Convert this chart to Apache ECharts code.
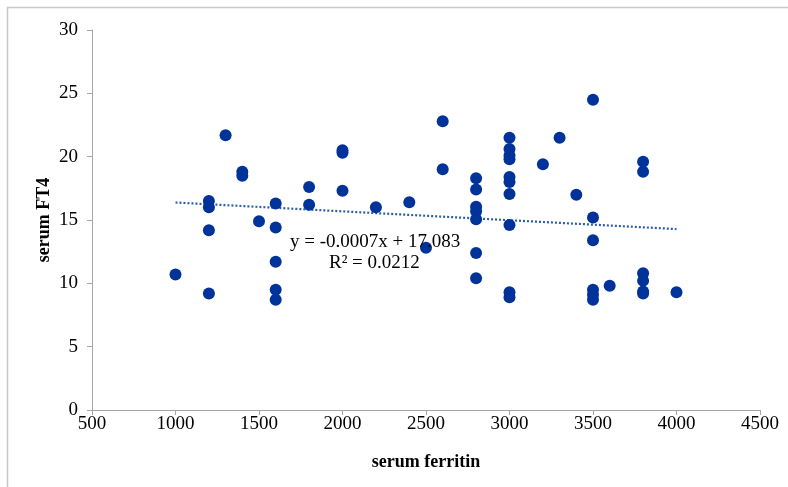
<!DOCTYPE html>
<html>
<head>
<meta charset="utf-8">
<script src="https://cdn.jsdelivr.net/npm/echarts@6/dist/echarts.min.js"></script>
<style>
html,body{margin:0;padding:0;background:#fff;}
#c{width:788px;height:487px;}
</style>
</head>
<body>
<div id="c"></div>
<script>
var ferritin = [1000,1200,1200,1200,1200,1300,1400,1400,1500,1600,1600,1600,1600,1600,1800,1800,2000,2000,2000,2200,2400,2500,2600,2600,2800,2800,2800,2800,2800,2800,2800,3000,3000,3000,3000,3000,3000,3000,3000,3000,3000,3200,3300,3400,3500,3500,3500,3500,3500,3500,3600,3800,3800,3800,3800,3800,3800,4000];
var ft4 =      [10.7,16.5,16.0,14.2,9.2,21.7,18.8,18.5,14.9,16.3,14.4,11.7,9.5,8.7,17.6,16.2,20.5,20.3,17.3,16.0,16.4,12.8,22.8,19.0,18.3,17.4,16.05,15.7,15.05,12.4,10.4,21.5,20.6,20.1,19.8,18.4,18.0,17.05,14.6,9.3,8.9,19.4,21.5,17.0,24.5,15.2,13.4,9.5,9.1,8.7,9.8,19.6,18.8,10.8,10.2,9.35,9.2,9.3];
var trendX = [1000, 4000];
var trendY = [16.383, 14.283];
var xTicks = [500,1000,1500,2000,2500,3000,3500,4000,4500];
var yTicks = [0,5,10,15,20,25,30];
var eqText = ['y = -0.0007x + 17.083', 'R\u00B2 = 0.0212'];

var pts = ferritin.map(function(x,i){return [x, ft4[i]];});
var trend = trendX.map(function(x,i){return [x, trendY[i]];});
var axisCol = '#a6a6a6';
var font = '"Liberation Serif", "Times New Roman", serif';

var chart = echarts.init(document.getElementById('c'), null, {renderer:'canvas'});
chart.setOption({
  animation:false,
  backgroundColor:'#fff',
  grid:{left:92, right:28, top:30, bottom:77},
  xAxis:{
    type:'value', min:xTicks[0], max:xTicks[xTicks.length-1], interval:500,
    name:'serum ferritin', nameLocation:'middle', nameGap:43,
    nameTextStyle:{fontFamily:font, fontWeight:'bold', fontSize:18, color:'#000'},
    axisLine:{show:true, onZero:false, lineStyle:{color:axisCol, width:1}},
    axisTick:{show:true, length:5, lineStyle:{color:axisCol}},
    axisLabel:{fontFamily:font, fontSize:19, color:'#000', margin:5,
               formatter:function(v){return String(v);}},
    splitLine:{show:false}
  },
  yAxis:{
    type:'value', min:yTicks[0], max:yTicks[yTicks.length-1], interval:5,
    name:'serum FT4', nameLocation:'middle', nameGap:39, nameRotate:90,
    nameMoveOverlap:false,
    nameTextStyle:{fontFamily:font, fontWeight:'bold', fontSize:18, color:'#000'},
    axisLine:{show:true, lineStyle:{color:axisCol, width:1}},
    axisTick:{show:true, length:5, lineStyle:{color:axisCol}},
    axisLabel:{fontFamily:font, fontSize:19, color:'#000', margin:14,
               formatter:function(v){return String(v);}},
    splitLine:{show:false}
  },
  graphic:[
    {type:'rect', shape:{x:7.5, y:7.5, width:820, height:520}, silent:true, z:-10,
     style:{fill:'none', stroke:'#c8c8c8', lineWidth:1.5}},
    {type:'text', left:290, top:233, z:100,
     style:{text:eqText[0], font:'19px ' + font, fill:'#000'}},
    {type:'text', left:329, top:254, z:100,
     style:{text:eqText[1], font:'19px ' + font, fill:'#000'}}
  ],
  series:[
    {type:'line', data:trend, symbol:'none', z:1,
     lineStyle:{color:'#2a5db0', width:2.2, type:[2,2]}},
    {type:'scatter', data:pts, symbol:'circle', symbolSize:12, z:3,
     itemStyle:{color:'#003399', opacity:1}}
  ]
});
</script>
</body>
</html>
